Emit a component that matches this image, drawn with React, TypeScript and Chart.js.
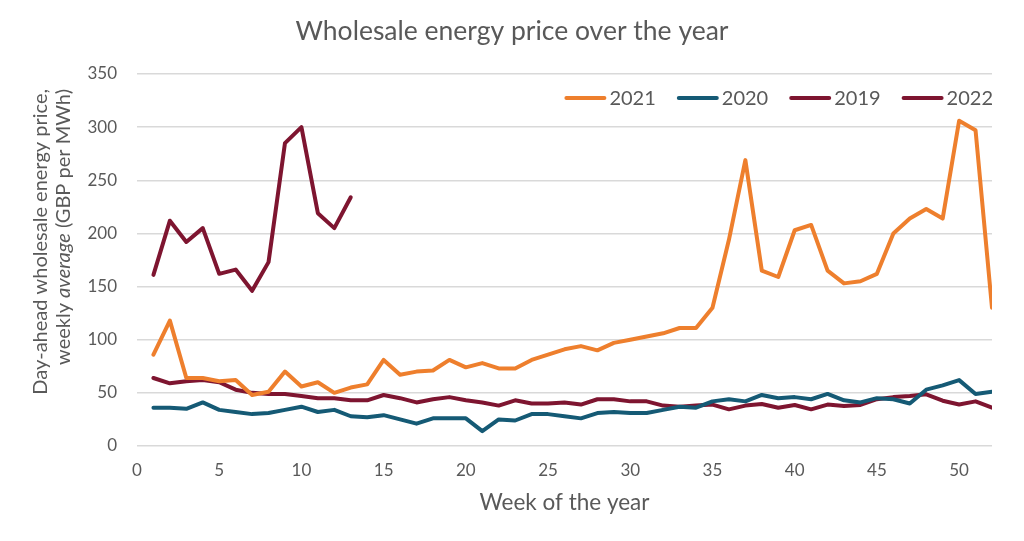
import React, { useEffect, useRef } from 'react';
import { Chart, registerables } from 'chart.js';

Chart.register(...registerables);

const WEEKS = [
  1, 2, 3, 4, 5, 6, 7, 8, 9, 10, 11, 12, 13, 14, 15, 16, 17, 18, 19, 20, 21, 22, 23, 24, 25, 26,
  27, 28, 29, 30, 31, 32, 33, 34, 35, 36, 37, 38, 39, 40, 41, 42, 43, 44, 45, 46, 47, 48, 49, 50, 51, 52,
];

const PRICE_2021 = [
  86, 118, 64, 64, 61, 62, 48, 51, 70, 56, 60, 50, 55, 58, 81, 67, 70, 71, 81, 74, 78, 73, 73, 81, 86, 91,
  94, 90, 97, 100, 103, 106, 111, 111, 130, 194, 269, 165, 159, 203, 208, 165, 153, 155, 162, 200, 214, 223, 214, 306, 297, 130,
];

const PRICE_2020 = [
  36, 36, 35, 41, 34, 32, 30, 31, 34, 37, 32, 34, 28, 27, 29, 25, 21, 26, 26, 26, 14, 25, 24, 30, 30, 28,
  26, 31, 32, 31, 31, 34, 37, 36, 42, 44, 42, 48, 45, 46, 44, 49, 43, 41, 45, 44, 40, 53, 57, 62, 49, 51,
];

const PRICE_2019 = [
  64, 59, 61, 62, 60, 53, 50, 49, 49, 47, 45, 45, 43, 43, 48, 45, 41, 44, 46, 43, 41, 38, 43, 40, 40, 41,
  39, 44, 44, 42, 42, 38, 37, 38, 39, 34.5, 38, 39.5, 36, 38.6, 34.5, 39, 37.6, 38.6, 44, 46, 47, 48.6, 42.6, 39, 42, 36,
];

const PRICE_2022 = [161, 212, 192, 205, 162, 166, 146, 173, 285, 300, 219, 205, 234];

const SERIES_LABELS = ['2021', '2020', '2019', '2022'];
const X_TICKS = [0, 5, 10, 15, 20, 25, 30, 35, 40, 45, 50];
const Y_TICKS = [0, 50, 100, 150, 200, 250, 300, 350];

const TITLE = 'Wholesale energy price over the year';
const X_TITLE = 'Week of the year';
const Y_TITLE_LINE1 = 'Day-ahead wholesale energy price,';
const Y_TITLE_LINE2 = [
  { text: 'weekly ', italic: false },
  { text: 'average', italic: true },
  { text: ' (GBP per MWh)', italic: false },
];

const FONT = 'Lato, "Open Sans", "DejaVu Sans", sans-serif';
const TEXT_COLOR = '#595959';
const COLORS = ['#EE7F2D', '#155A75', '#7E1530', '#7E1530'];

function toPoints(values: number[]) {
  return values.map((v, i) => ({ x: WEEKS[i], y: v }));
}

const legendPlugin = {
  id: 'insideLegend',
  afterDraw(chart: any) {
    const { ctx, chartArea } = chart;
    ctx.save();
    ctx.font = `20px ${FONT}`;
    ctx.textBaseline = 'middle';
    ctx.textAlign = 'left';
    const lineLen = 42;
    const gap = 3;
    const itemGap = 21;
    const datasets = chart.data.datasets;
    const widths = datasets.map((d: any) => lineLen + gap + ctx.measureText(d.label).width);
    const total = widths.reduce((a: number, b: number) => a + b, 0) + itemGap * (datasets.length - 1);
    let x = chartArea.right + 1 - total;
    const y = chartArea.top + 24;
    datasets.forEach((d: any, i: number) => {
      ctx.strokeStyle = d.borderColor;
      ctx.lineWidth = 4;
      ctx.lineCap = 'round';
      ctx.beginPath();
      ctx.moveTo(x + 2, y);
      ctx.lineTo(x + lineLen - 2, y);
      ctx.stroke();
      ctx.fillStyle = TEXT_COLOR;
      ctx.fillText(d.label, x + lineLen + gap, y + 1);
      x += widths[i] + itemGap;
    });
    ctx.restore();
  },
};

const yTitlePlugin = {
  id: 'yTitle',
  afterDraw(chart: any) {
    const { ctx } = chart;
    const endY = 89;
    const size = 20;
    ctx.save();
    ctx.fillStyle = TEXT_COLOR;
    ctx.textBaseline = 'alphabetic';
    // line 1
    ctx.save();
    ctx.translate(47, endY);
    ctx.rotate(-Math.PI / 2);
    ctx.font = `${size}px ${FONT}`;
    ctx.textAlign = 'right';
    ctx.fillText(Y_TITLE_LINE1, 0, 0);
    ctx.restore();
    // line 2 (mixed italics)
    ctx.save();
    ctx.translate(70, endY);
    ctx.rotate(-Math.PI / 2);
    ctx.textAlign = 'left';
    const fonts = Y_TITLE_LINE2.map((s) => `${s.italic ? 'italic ' : ''}${size}px ${FONT}`);
    let total = 0;
    const ws = Y_TITLE_LINE2.map((s, i) => {
      ctx.font = fonts[i];
      const w = ctx.measureText(s.text).width;
      total += w;
      return w;
    });
    let x = -total;
    Y_TITLE_LINE2.forEach((s, i) => {
      ctx.font = fonts[i];
      ctx.fillText(s.text, x, 0);
      x += ws[i];
    });
    ctx.restore();
    ctx.restore();
  },
};

export default function App() {
  const canvasRef = useRef<HTMLCanvasElement | null>(null);

  useEffect(() => {
    const canvas = canvasRef.current;
    if (!canvas) return;
    const values = [PRICE_2021, PRICE_2020, PRICE_2019, PRICE_2022];
    const chart = new Chart(canvas, {
      type: 'line',
      data: {
        datasets: SERIES_LABELS.map((label, i) => ({
          label,
          data: toPoints(values[i]),
          borderColor: COLORS[i],
          backgroundColor: COLORS[i],
          borderWidth: 4,
          pointRadius: 0,
          pointHoverRadius: 0,
          tension: 0,
          borderJoinStyle: 'round' as const,
          borderCapStyle: 'round' as const,
          fill: false,
          yAxisID: 'y',
        })),
      },
      options: {
        responsive: false,
        animation: false,
        events: [],
        layout: { padding: { left: 0, right: 0, top: 0, bottom: 0 } },
        plugins: {
          legend: { display: false },
          tooltip: { enabled: false },
          title: {
            display: true,
            text: TITLE,
            color: TEXT_COLOR,
            font: { family: FONT, size: 26.5, weight: 'normal', lineHeight: 1.2 },
            padding: { top: 16, bottom: 26.2 },
          },
        },
        scales: {
          x: {
            type: 'linear',
            min: 0,
            max: 52,
            grid: { display: false, drawTicks: false },
            border: { display: false },
            afterFit(scale: any) {
              scale.height = 95;
            },
            afterBuildTicks(scale: any) {
              scale.ticks = X_TICKS.map((v) => ({ value: v }));
            },
            ticks: {
              color: TEXT_COLOR,
              font: { family: FONT, size: 17 },
              padding: 14,
              maxRotation: 0,
              autoSkip: false,
            },
            title: {
              display: true,
              text: X_TITLE,
              color: TEXT_COLOR,
              font: { family: FONT, size: 22.5 },
              padding: { top: 0, bottom: 25 },
            },
          },
          y: {
            position: 'left',
            min: 0,
            max: 350,
            grid: { color: '#D9D9D9', lineWidth: 1.5, drawTicks: false },
            border: { display: false },
            afterFit(scale: any) {
              scale.width = 137;
            },
            afterBuildTicks(scale: any) {
              scale.ticks = Y_TICKS.map((v) => ({ value: v }));
            },
            ticks: {
              color: TEXT_COLOR,
              font: { family: FONT, size: 17 },
              padding: 20,
            },
          },
          spacer: {
            type: 'linear',
            position: 'right',
            min: 0,
            max: 350,
            grid: { display: false, drawTicks: false },
            border: { display: false },
            ticks: { display: false },
            afterFit(scale: any) {
              scale.width = 32;
            },
          },
        },
      },
      plugins: [legendPlugin, yTitlePlugin],
    });
    return () => chart.destroy();
  }, []);

  return (
    <div style={{ position: 'absolute', left: 0, top: 0, width: 1024, height: 541, background: '#fff' }}>
      <canvas ref={canvasRef} width={1024} height={541} style={{ display: 'block' }} />
    </div>
  );
}
